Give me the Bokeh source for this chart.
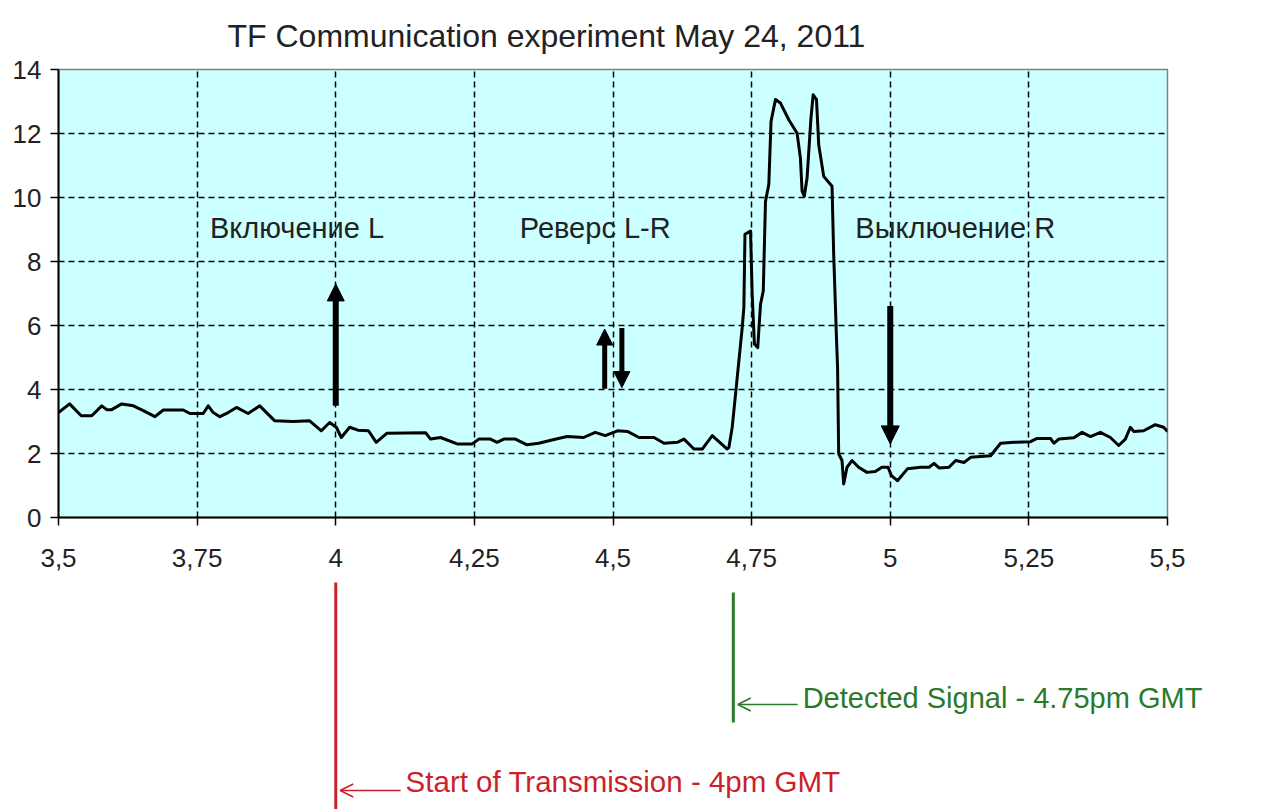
from bokeh.plotting import figure
from bokeh.models import Range1d, FixedTicker, Arrow, NormalHead, OpenHead, Label
from bokeh.layouts import column
from bokeh.embed import file_html
from bokeh.resources import INLINE
from bokeh.core.properties import value

# ---------------- data ----------------
time_h = [3.500, 3.520, 3.541, 3.560, 3.578, 3.587, 3.596, 3.614, 3.635, 3.653,
          3.674, 3.689, 3.725, 3.737, 3.761, 3.770, 3.779, 3.791, 3.806, 3.821,
          3.842, 3.863, 3.890, 3.923, 3.953, 3.974, 3.989, 4.001, 4.010, 4.025,
          4.040, 4.059, 4.073, 4.092, 4.128, 4.162, 4.171, 4.189, 4.219, 4.246,
          4.258, 4.279, 4.291, 4.303, 4.324, 4.345, 4.366, 4.390, 4.417, 4.447,
          4.468, 4.486, 4.508, 4.526, 4.547, 4.574, 4.592, 4.616, 4.628, 4.646,
          4.661, 4.679, 4.706, 4.709, 4.715, 4.724, 4.733, 4.736, 4.738, 4.748,
          4.751, 4.755, 4.761, 4.766, 4.771, 4.775, 4.781, 4.785, 4.793, 4.802,
          4.817, 4.832, 4.838, 4.841, 4.845, 4.850, 4.857, 4.861, 4.867, 4.871,
          4.880, 4.895, 4.898, 4.903, 4.905, 4.907, 4.913, 4.916, 4.922, 4.931,
          4.943, 4.958, 4.973, 4.985, 4.996, 5.002, 5.013, 5.031, 5.055, 5.070,
          5.079, 5.088, 5.106, 5.118, 5.133, 5.145, 5.181, 5.199, 5.223, 5.253,
          5.265, 5.289, 5.295, 5.304, 5.331, 5.346, 5.361, 5.379, 5.397, 5.412,
          5.424, 5.433, 5.439, 5.457, 5.478, 5.493, 5.500]
signal = [3.28, 3.55, 3.18, 3.18, 3.49, 3.37, 3.37, 3.55, 3.49, 3.34,
          3.15, 3.36, 3.36, 3.25, 3.25, 3.49, 3.28, 3.15, 3.28, 3.44,
          3.25, 3.49, 3.02, 3.00, 3.02, 2.71, 2.97, 2.82, 2.50, 2.82,
          2.73, 2.71, 2.35, 2.63, 2.64, 2.65, 2.45, 2.50, 2.30, 2.30,
          2.45, 2.45, 2.35, 2.45, 2.45, 2.27, 2.32, 2.42, 2.53, 2.50,
          2.66, 2.56, 2.71, 2.69, 2.50, 2.50, 2.32, 2.35, 2.45, 2.14,
          2.14, 2.56, 2.14, 2.19, 2.82, 4.37, 5.93, 6.56, 8.85, 8.95,
          6.98, 5.42, 5.31, 6.66, 7.08, 9.88, 10.41, 12.38, 13.06, 12.95,
          12.43, 12.01, 11.23, 10.20, 10.04, 10.61, 12.48, 13.21, 13.06, 11.65,
          10.66, 10.35, 8.22, 5.62, 4.69, 1.99, 1.78, 1.05, 1.57, 1.78,
          1.57, 1.41, 1.44, 1.57, 1.57, 1.31, 1.15, 1.52, 1.57, 1.57,
          1.69, 1.55, 1.57, 1.78, 1.72, 1.88, 1.93, 2.32, 2.35, 2.37,
          2.47, 2.47, 2.32, 2.45, 2.49, 2.66, 2.53, 2.66, 2.50, 2.25,
          2.45, 2.82, 2.69, 2.71, 2.90, 2.82, 2.69]

x_ticks = [3.5, 3.75, 4.0, 4.25, 4.5, 4.75, 5.0, 5.25, 5.5]
x_tick_labels = ["3,5", "3,75", "4", "4,25", "4,5", "4,75", "5", "5,25", "5,5"]
y_ticks = [0, 2, 4, 6, 8, 10, 12, 14]

title_text = "TF Communication experiment  May 24, 2011"

event_labels = ["Включение L", "Реверс L-R", "Выключение R"]
event_label_x = [3.773, 4.332, 4.937]
event_label_y = [9.04, 9.04, 9.04]

arrow_x = [4.0, 4.485, 4.516, 5.0]
arrow_from = [3.49, 4.02, 5.92, 6.61]
arrow_to = [7.30, 5.89, 4.06, 2.30]

transmission_start = 4.0
detected_signal = 4.717
note_texts = ["Start of Transmission - 4pm GMT", "Detected Signal - 4.75pm GMT"]

# ---------------- styles / layout ----------------
FONT = "Liberation Sans"
TXT = "#222222"
RED = "#cc1f2a"
GREEN = "#2a7a2a"
arrow_widths = [6, 5, 5, 6]
arrow_heads = [17, 16, 16, 18]

W = 1266
ML, MR = 58, 99
H1, H2 = 575, 234
FRAME_W = W - ML - MR

X0, X1 = 3.5, 5.5
xr = Range1d(X0, X1)

p = figure(width=W, height=H1, x_range=xr, y_range=Range1d(0, 14),
           output_backend="svg", toolbar_location=None,
           min_border_left=ML, min_border_right=MR, min_border_top=68, min_border_bottom=58,
           background_fill_color="#CCFFFF", border_fill_color="white",
           outline_line_color="#808080", outline_line_width=1.5)
p.frame_align = False

p.title.text = title_text
p.title.text_font = FONT
p.title.text_font_size = "32px"
p.title.text_font_style = "normal"
p.title.text_color = TXT
p.title.align = "left"
p.title.offset = 169
p.title.standoff = 31

for ax in (p.xaxis, p.yaxis):
    ax.axis_line_width = 2
    ax.axis_line_color = "black"
    ax.major_tick_line_color = "black"
    ax.major_tick_line_width = 1.5
    ax.major_tick_in = 0
    ax.major_tick_out = 8
    ax.minor_tick_line_color = None
    ax.major_label_text_font = FONT
    ax.major_label_text_font_size = "26px"
    ax.major_label_text_color = TXT

p.xaxis.ticker = FixedTicker(ticks=x_ticks)
p.xaxis.major_label_overrides = dict(zip(x_ticks, x_tick_labels))
p.xaxis.major_label_standoff = 23
p.yaxis.ticker = FixedTicker(ticks=y_ticks)
p.yaxis.major_label_standoff = 9

p.xgrid.ticker = FixedTicker(ticks=x_ticks[1:-1])
p.ygrid.ticker = FixedTicker(ticks=y_ticks[1:-1])
for g in (p.xgrid, p.ygrid):
    g.grid_line_color = "black"
    g.grid_line_dash = "6 4"
    g.grid_line_width = 1.5

p.line(time_h, signal, line_color="black", line_width=3, line_join="round")

p.text(x=event_label_x, y=event_label_y, text=event_labels,
       text_font=value(FONT), text_font_size="29px", text_color=TXT,
       text_baseline="middle", text_align="left")

for xa, y0, y1, lw, hs in zip(arrow_x, arrow_from, arrow_to, arrow_widths, arrow_heads):
    p.add_layout(Arrow(x_start=xa, y_start=y0, x_end=xa, y_end=y1,
                       line_color="black", line_width=lw,
                       end=NormalHead(size=hs, fill_color="black", line_color="black", line_width=1)))

# ---------------- notes below the chart (same horizontal scale, full-width frame) ----------------
px_per_unit = FRAME_W / (X1 - X0)
xr2 = Range1d(X0 - ML / px_per_unit, X1 + MR / px_per_unit)

p2 = figure(width=W, height=H2, x_range=xr2, y_range=Range1d(H1 + H2, H1),
            output_backend="svg", toolbar_location=None,
            x_axis_location=None, y_axis_location=None,
            min_border_left=0, min_border_right=0, min_border_top=0, min_border_bottom=0,
            outline_line_color=None, background_fill_color="white", border_fill_color="white")
p2.frame_align = False
p2.xgrid.visible = False
p2.ygrid.visible = False

p2.segment(x0=[transmission_start], y0=[582], x1=[transmission_start], y1=[H1 + H2],
           line_color=RED, line_width=3)
p2.segment(x0=[detected_signal], y0=[592], x1=[detected_signal], y1=[722],
           line_color=GREEN, line_width=3)

p2.add_layout(Arrow(x_start=transmission_start + 0.117, y_start=790,
                    x_end=transmission_start + 0.008, y_end=790,
                    line_color=RED, line_width=1.5,
                    end=OpenHead(size=13, line_color=RED, line_width=1.5)))
p2.add_layout(Arrow(x_start=detected_signal + 0.116, y_start=704,
                    x_end=detected_signal + 0.008, y_end=704,
                    line_color=GREEN, line_width=1.5,
                    end=OpenHead(size=13, line_color=GREEN, line_width=1.5)))

p2.add_layout(Label(x=transmission_start + 0.126, y=781, text=note_texts[0],
                    text_font=FONT, text_font_size="29.5px", text_color=RED,
                    text_baseline="middle", text_align="left"))
p2.add_layout(Label(x=detected_signal + 0.125, y=697, text=note_texts[1],
                    text_font=FONT, text_font_size="29px", text_color=GREEN,
                    text_baseline="middle", text_align="left"))

layout = column(p, p2, spacing=0)
open("out.html", "w").write(file_html(layout, INLINE))
